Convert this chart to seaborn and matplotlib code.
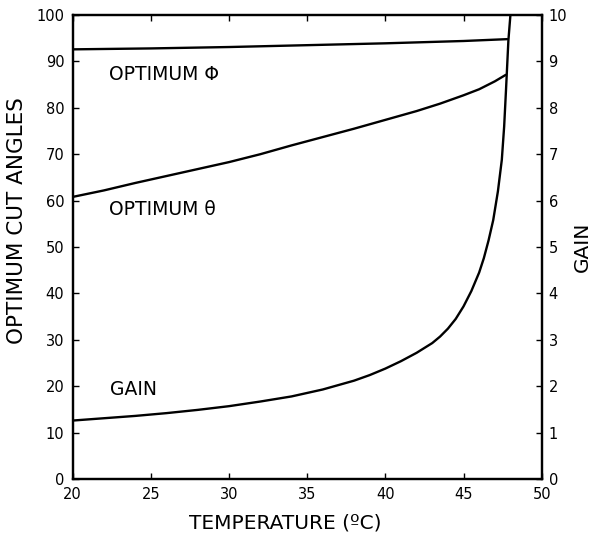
import matplotlib
matplotlib.use("Agg")
import matplotlib.pyplot as plt
import seaborn as sns
import pandas as pd

# Optimum phi (degrees)
phi_temp = [20, 25, 30, 35, 40, 45, 47.8]
phi_vals = [92.6, 92.8, 93.1, 93.5, 93.9, 94.4, 94.8]

# Optimum theta (degrees)
theta_temp = [20, 22, 24, 26, 28, 30, 32, 34, 36, 38, 40, 42, 43.5, 45, 46, 47, 47.7]
theta_vals = [60.8, 62.2, 63.8, 65.3, 66.8, 68.3, 70.0, 71.9, 73.7, 75.5, 77.4, 79.3, 80.9, 82.7, 84.0, 85.7, 87.1]

# Gain
gain_temp = [20, 22, 24, 26, 28, 30, 32, 34, 36, 38, 39, 40, 41, 42, 43, 43.5, 44, 44.5, 45, 45.5,
             46, 46.3, 46.6, 46.9, 47.2, 47.45, 47.6, 47.72, 47.87, 48.0]
gain_vals = [1.26, 1.31, 1.36, 1.42, 1.49, 1.57, 1.67, 1.78, 1.93, 2.12, 2.24, 2.38, 2.54, 2.72, 2.93, 3.07, 3.24, 3.45, 3.72, 4.05,
             4.45, 4.76, 5.14, 5.58, 6.2, 6.88, 7.6, 8.4, 9.45, 10.0]

x_ticks = [20, 25, 30, 35, 40, 45, 50]
left_ticks = [0, 10, 20, 30, 40, 50, 60, 70, 80, 90, 100]
right_ticks = [0, 1, 2, 3, 4, 5, 6, 7, 8, 9, 10]

sns.set_style("white")
plt.rcParams['font.family'] = ['DejaVu Sans']
plt.rcParams['text.color'] = 'black'
plt.rcParams['axes.labelcolor'] = 'black'

fig = plt.figure(figsize=(5.92, 5.42), dpi=100)
ax = fig.add_axes([0.1228, 0.1162, 0.915 - 0.1228, 0.9723 - 0.1162])

df_phi = pd.DataFrame({"T": phi_temp, "v": phi_vals})
df_theta = pd.DataFrame({"T": theta_temp, "v": theta_vals})
df_gain = pd.DataFrame({"T": gain_temp, "v": gain_vals})

sns.lineplot(data=df_phi, x="T", y="v", ax=ax, color="black", lw=1.7)
sns.lineplot(data=df_theta, x="T", y="v", ax=ax, color="black", lw=1.7)

ax.set_xlim(20, 50)
ax.set_ylim(0, 100)
ax.set_xticks(x_ticks)
ax.set_yticks(left_ticks)
ax.tick_params(axis="x", direction="in", length=4, width=1, labelsize=10.5, pad=6,
               top=True, bottom=True, labelcolor="black", color="black")
ax.tick_params(axis="y", direction="in", length=4, width=1, labelsize=10.5, pad=6,
               left=True, labelcolor="black", color="black")
ax.set_xlabel("TEMPERATURE (ºC)", fontsize=14.5)
ax.set_ylabel("OPTIMUM CUT ANGLES", fontsize=15.5)
ax.xaxis.set_label_coords(0.453, -0.095)
ax.yaxis.set_label_coords(-0.119, 0.556)
ax.xaxis.label.set_va("center")
ax.yaxis.label.set_va("center")

ax2 = ax.twinx()
sns.lineplot(data=df_gain, x="T", y="v", ax=ax2, color="black", lw=1.7)
ax2.set_ylim(0, 10)
ax2.set_xlim(20, 50)
ax2.set_yticks(right_ticks)
ax2.tick_params(axis="y", direction="in", length=4, width=1, labelsize=10.5, pad=5, right=True,
                labelcolor="black", color="black")
ax2.set_ylabel("GAIN", fontsize=14.5)
ax2.yaxis.set_label_coords(1.086, 0.5)
ax2.yaxis.label.set_va("center")

for a in (ax, ax2):
    for s in a.spines.values():
        s.set_color("black")
        s.set_linewidth(1.6)

ax.text(22.3, 87.1, "OPTIMUM Φ", fontsize=13.5, va="center", ha="left")
ax.text(22.3, 58.0, "OPTIMUM θ", fontsize=13.5, va="center", ha="left")
ax.text(22.4, 19.3, "GAIN", fontsize=13.5, va="center", ha="left")

fig.savefig("out.png", dpi=100)
